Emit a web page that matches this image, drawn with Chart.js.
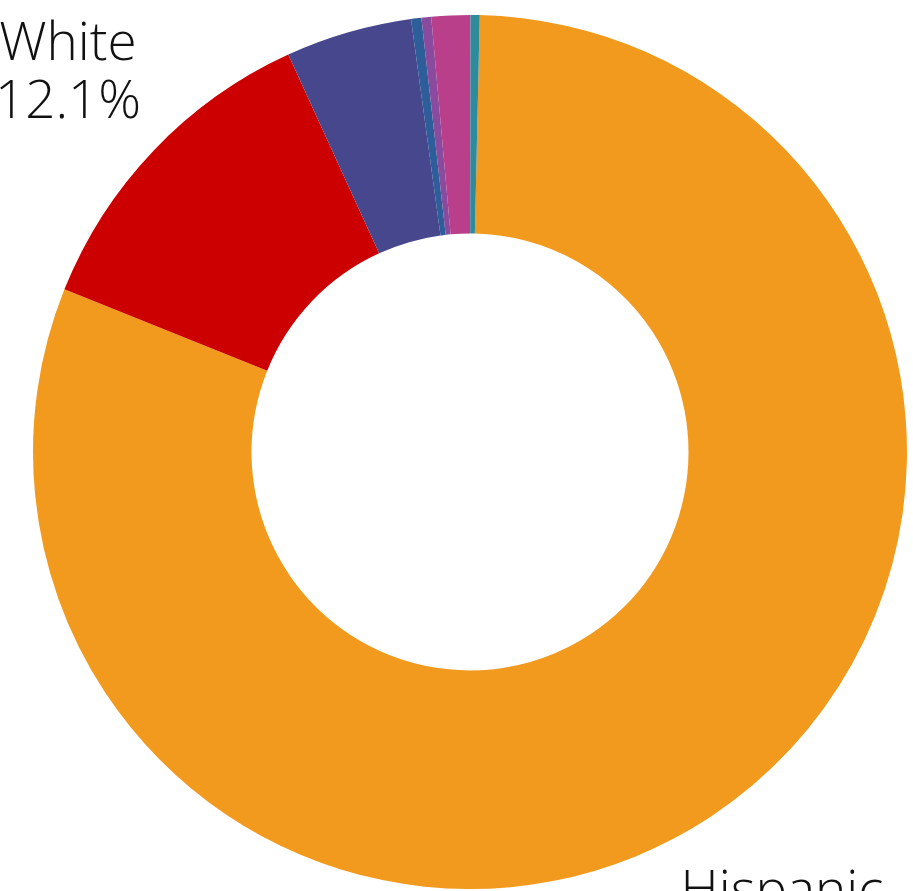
<!DOCTYPE html>
<html>
<head>
<meta charset="utf-8">
<script src="https://cdn.jsdelivr.net/npm/chart.js@4/dist/chart.umd.min.js"></script>
<style>
  html, body { margin: 0; padding: 0; background: #fff; overflow: hidden; }
  #wrap { width: 913px; height: 891px; }
</style>
</head>
<body>
<div id="wrap"><canvas id="chart" width="913" height="891"></canvas></div>
<script>
// data (share of total, %)
const groups = ['Hispanic', 'White', 'Black', 'Asian', 'American Indian', 'Two or More', 'Pacific Islander'];
const shares = [80.7, 12.1, 4.67, 0.38, 0.36, 1.43, 0.34];
const colors = ['#F29A1E', '#CC0000', '#46478D', '#2D5E9A', '#8A4A9E', '#B93F8B', '#2E8B9B'];

// outside labels, only two are visible in the crop
const calloutText = [['White', '12.1%'], ['Hispanic']];

const calloutPlugin = {
  id: 'callouts',
  afterDraw(chart) {
    const ctx = chart.ctx;
    const arc = chart.getDatasetMeta(0).data[0];
    const cx = arc.x, cy = arc.y, r = arc.outerRadius;
    ctx.save();
    ctx.fillStyle = '#111';
    ctx.font = '300 53px "Open Sans", sans-serif';
    ctx.textAlign = 'center';
    ctx.textBaseline = 'alphabetic';
    // White label: up-left of the ring
    let x = cx - r * 0.92, y = cy - r * 0.898;
    calloutText[0].forEach((line, i) => ctx.fillText(line, x, y + i * 58));
    // Hispanic label: below-right of the ring
    x = cx + r * 0.714; y = cy + r * 1.043;
    calloutText[1].forEach((line, i) => ctx.fillText(line, x, y + i * 58));
    ctx.restore();
  }
};

new Chart(document.getElementById('chart').getContext('2d'), {
  type: 'doughnut',
  data: {
    labels: groups,
    datasets: [{
      data: shares,
      backgroundColor: colors,
      borderWidth: 0,
    }],
  },
  options: {
    responsive: false,
    animation: false,
    rotation: 1.28,
    cutout: '50%',
    layout: { padding: { left: 33, top: 15, right: 6, bottom: 2 } },
    plugins: { legend: { display: false }, tooltip: { enabled: false } },
  },
  plugins: [calloutPlugin],
});
</script>
</body>
</html>
